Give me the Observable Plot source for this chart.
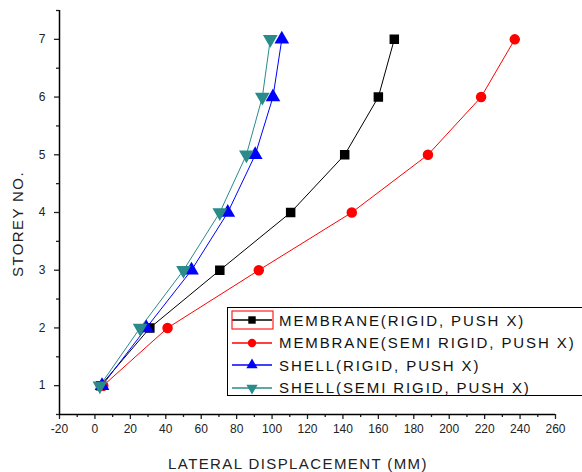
<!DOCTYPE html>
<html><head><meta charset="utf-8">
<script src="https://cdn.jsdelivr.net/npm/d3@7"></script>
<script src="https://cdn.jsdelivr.net/npm/@observablehq/plot@0.6"></script>
<style>
body{margin:0;background:#fff;font-family:"Liberation Sans",Arial,sans-serif;}
#wrap{position:relative;width:582px;height:472px;overflow:hidden;}
#legend{position:absolute;left:227px;top:307px;width:360px;height:89px;border:1.3px solid #000;background:#fff;box-sizing:border-box;}
.row{position:absolute;left:0;height:22px;display:flex;align-items:center;}
.row span{font-size:15px;letter-spacing:1.9px;color:#111;margin-left:5px;white-space:nowrap;}
.xlab text, .ylab text{letter-spacing:1.4px;}
</style></head>
<body><div id="wrap"><div id="chart"></div><div id="legend"></div></div>
<script>
const storeys = [1, 2, 3, 4, 5, 6, 7];
const membraneRigid = [3.2, 31, 70.5, 110.5, 141, 160, 169];
const membraneSemiRigid = [4.7, 41, 92.5, 145, 188, 218, 237];
const shellRigid = [4, 29, 54.5, 75, 90.5, 100.5, 105.5];
const shellSemiRigid = [2.8, 25.5, 50, 70.5, 85.5, 94.5, 99];
const seriesNames = ["MEMBRANE(RIGID, PUSH X)", "MEMBRANE(SEMI RIGID, PUSH X)", "SHELL(RIGID, PUSH X)", "SHELL(SEMI RIGID, PUSH X)"];
const seriesColors = ["#000000", "#ff0000", "#0000ff", "#2a8b8b"];
const xTicks = [-20, 0, 20, 40, 60, 80, 100, 120, 140, 160, 180, 200, 220, 240, 260];
const xMinor = [-10, 10, 30, 50, 70, 90, 110, 130, 150, 170, 190, 210, 230, 250];
const yTicks = [1, 2, 3, 4, 5, 6, 7];
const yMinor = [0.5, 1.5, 2.5, 3.5, 4.5, 5.5, 6.5, 7.5];
const xDomain = [-20, 260];
const yDomain = [0.5, 7.5];

const triangleDown = {draw(context, size) {
  const y = -Math.sqrt(size / (3 * Math.sqrt(3)));
  const s3 = Math.sqrt(3);
  context.moveTo(0, -y * 2);
  context.lineTo(-s3 * y, y);
  context.lineTo(s3 * y, y);
  context.closePath();
}};
const symbols = ["square", "circle", "triangle", triangleDown];
const allValues = [membraneRigid, membraneSemiRigid, shellRigid, shellSemiRigid];
const data = [];
allValues.forEach((vals, i) => vals.forEach((v, j) => data.push({series: seriesNames[i], x: v, y: storeys[j]})));

const chart = Plot.plot({
  width: 582, height: 472,
  marginLeft: 59, marginRight: 27, marginTop: 10, marginBottom: 58,
  style: {fontFamily: "Liberation Sans, Arial, sans-serif", fontSize: "12px", color: "#222"},
  x: {domain: xDomain},
  y: {domain: yDomain},
  color: {domain: seriesNames, range: seriesColors},
  symbol: {domain: seriesNames, range: symbols},
  marks: [
    Plot.axisX({ticks: xTicks, tickSize: 5, tickPadding: 5, tickFormat: d => String(d), label: null, strokeWidth: 1.3}),
    Plot.axisX({ticks: xMinor, tickSize: 3, text: null, label: null, strokeWidth: 1.3}),
    Plot.axisY({ticks: yTicks, tickSize: 5, tickPadding: 9, tickFormat: d => String(d), label: null, strokeWidth: 1.3}),
    Plot.axisY({ticks: yMinor, tickSize: 3, text: null, label: null, strokeWidth: 1.3}),
    Plot.ruleX([xDomain[0]], {stroke: "#000", strokeWidth: 1.5}),
    Plot.ruleY([yDomain[0]], {stroke: "#000", strokeWidth: 1.5}),
    Plot.line(data, {x: "x", y: "y", z: "series", stroke: "series", strokeWidth: 1}),
    Plot.dot(data, {x: "x", y: "y", symbol: "series", fill: "series", stroke: "series", r: 4.5})
  ]
});
document.getElementById("chart").appendChild(chart);

// Axis titles
const svg = d3.select(chart);
svg.append("g").attr("class", "xlab").append("text")
  .attr("x", 298).attr("y", 469).attr("text-anchor", "middle")
  .attr("font-size", 15).attr("fill", "#222").text("LATERAL DISPLACEMENT (MM)");
svg.append("g").attr("class", "ylab").append("text")
  .attr("transform", "translate(23,224) rotate(-90)").attr("text-anchor", "middle")
  .attr("font-size", 15).attr("fill", "#222").text("STOREY NO.");

// Legend
const legend = document.getElementById("legend");
seriesNames.forEach((name, i) => {
  const row = document.createElement("div");
  row.className = "row";
  row.style.top = (1 + i * 22.5) + "px";
  const sw = d3.create("svg").attr("width", 46).attr("height", 22);
  sw.append("line").attr("x1", 4).attr("x2", 44).attr("y1", 11).attr("y2", 11)
    .attr("stroke", seriesColors[i]).attr("stroke-width", 1.3);
  const sym = typeof symbols[i] === "string" ? d3.symbol(({square: d3.symbolSquare, circle: d3.symbolCircle, triangle: d3.symbolTriangle})[symbols[i]], 55) : d3.symbol(symbols[i], 55);
  sw.append("path").attr("d", sym()).attr("transform", "translate(24,11)").attr("fill", seriesColors[i]);
  if (i === 0) sw.append("rect").attr("x", 4).attr("y", 2).attr("width", 41).attr("height", 18)
    .attr("fill", "none").attr("stroke", "#ff2020").attr("stroke-width", 1.2);
  row.appendChild(sw.node());
  const t = document.createElement("span");
  t.textContent = name;
  row.appendChild(t);
  legend.appendChild(row);
});
</script></body></html>
